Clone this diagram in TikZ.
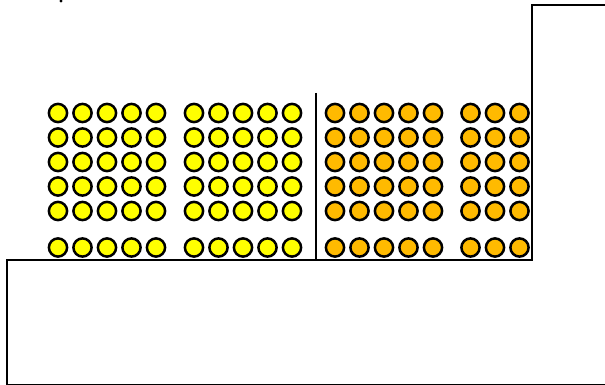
\documentclass[tikz,border=0pt]{standalone}
\usepackage{tikz}

\definecolor{ballyellow}{RGB}{255,255,0}
\definecolor{ballorange}{RGB}{255,186,0}

\tikzset{
  ball/.style={draw=black,line width=0.05cm},
  wall/.style={draw=black,line width=0.045cm}
}

\begin{document}
\begin{tikzpicture}[x=0.02cm,y=-0.02cm]

\useasboundingbox (0,0) rectangle (605,385);

% Outline of the step
\draw[wall] (605,385.5) -- (7,385.5) -- (7,260) -- (532,260) -- (532,5) -- (605,5);

% Divider
\draw[wall] (316,93) -- (316,260);

% Dot at the top
\fill (61,1) circle (1.6);

% Yellow balls
\foreach \x in {58,82.5,107,131.5,156,194,218.5,243,267.5,292}
  \foreach \y in {113,137.5,162,186.5,211,247.5}
    \filldraw[ball,fill=ballyellow] (\x,\y) circle (9.1);

% Orange balls
\foreach \x in {335,359.5,384,408.5,433,470.5,495,519.5}
  \foreach \y in {113,137.5,162,186.5,211,247.5}
    \filldraw[ball,fill=ballorange] (\x,\y) circle (9.1);

\end{tikzpicture}
\end{document}
